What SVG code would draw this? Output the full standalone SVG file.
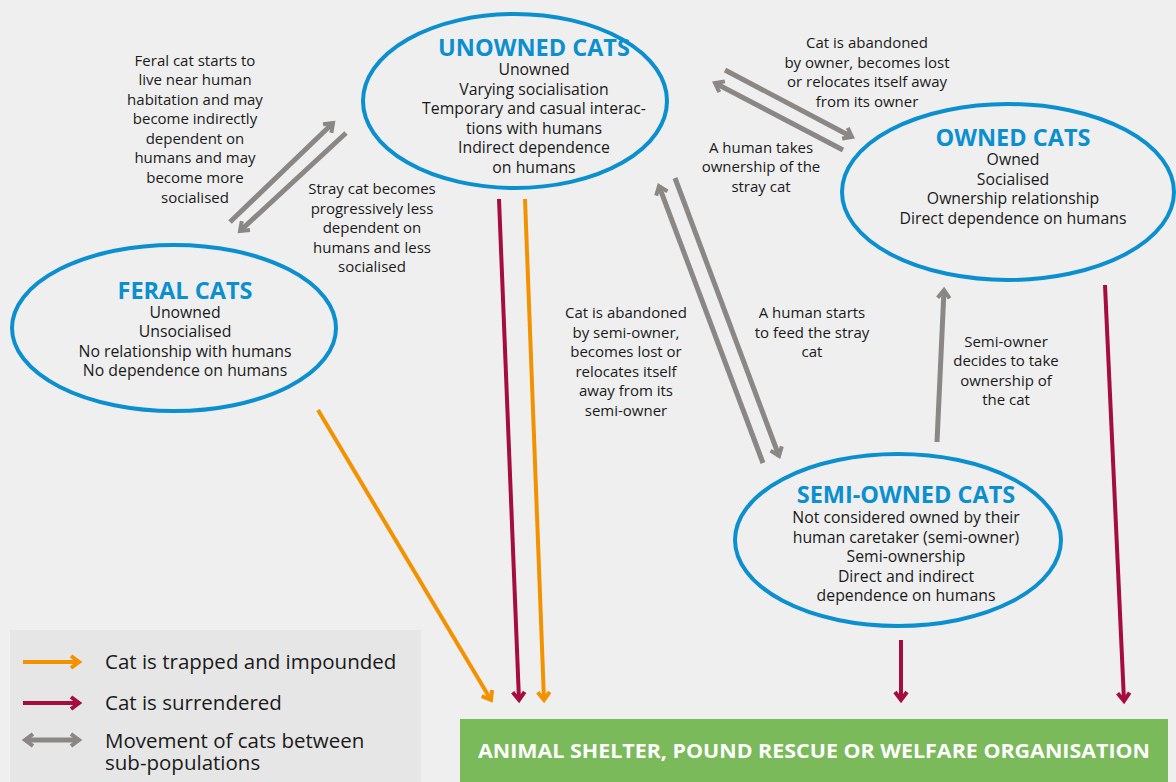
<svg xmlns="http://www.w3.org/2000/svg" width="1176" height="782" viewBox="0 0 1176 782">
<style>
.ell{fill:none;stroke:#0b8fcf;stroke-width:4}
.ttl{font-family:"Open Sans","Noto Sans",sans-serif;font-weight:700;font-size:23.5px;fill:#0b8fcf;text-anchor:middle}
.bd{font-family:"Open Sans","Noto Sans",sans-serif;font-size:15.8px;fill:#1a1a1a;text-anchor:middle}
.lb{font-family:"Open Sans","Noto Sans",sans-serif;font-size:15px;fill:#1a1a1a;text-anchor:middle}
.lg{font-family:"Open Sans","Noto Sans",sans-serif;font-size:20.5px;fill:#1a1a1a}
.gr{stroke:#8a8785;stroke-width:5;fill:none;marker-end:url(#mg)}
.or{stroke:#f39200;stroke-width:4;fill:none;marker-end:url(#mo)}
.cr{stroke:#a50d3f;stroke-width:4;fill:none;marker-end:url(#mc)}
</style>
<defs>
<marker id="mg" markerUnits="userSpaceOnUse" viewBox="0 0 16 16" refX="12" refY="8" markerWidth="16" markerHeight="16" orient="auto"><path d="M4,2 L12,8 L4,14" fill="none" stroke="#8a8785" stroke-width="4"/></marker>
<marker id="mo" markerUnits="userSpaceOnUse" viewBox="0 0 16 16" refX="12" refY="8" markerWidth="16" markerHeight="16" orient="auto"><path d="M4,2 L12,8 L4,14" fill="none" stroke="#f39200" stroke-width="4"/></marker>
<marker id="mc" markerUnits="userSpaceOnUse" viewBox="0 0 16 16" refX="12" refY="8" markerWidth="16" markerHeight="16" orient="auto"><path d="M4,2 L12,8 L4,14" fill="none" stroke="#a50d3f" stroke-width="4"/></marker>
<marker id="mgs" markerUnits="userSpaceOnUse" viewBox="0 0 16 16" refX="4" refY="8" markerWidth="16" markerHeight="16" orient="auto"><path d="M12,2 L4,8 L12,14" fill="none" stroke="#8a8785" stroke-width="4"/></marker>
</defs>
<rect width="1176" height="782" fill="#efefef"/>

<g id="connectors">
<line class="gr" x1="230" y1="222" x2="333" y2="123"/>
<line class="gr" x1="346" y1="133" x2="240" y2="231"/>
<line class="gr" x1="725" y1="70" x2="852" y2="137"/>
<line class="gr" x1="843" y1="150" x2="715" y2="83"/>
<line class="gr" x1="763" y1="463" x2="659" y2="186"/>
<line class="gr" x1="675" y1="178" x2="779" y2="456"/>
<line class="gr" x1="937" y1="442" x2="944" y2="290"/>
<line class="cr" x1="499" y1="199" x2="519" y2="700"/>
<line class="or" x1="525" y1="199" x2="544" y2="700"/>
<line class="or" x1="318" y1="410" x2="491" y2="700"/>
<line class="cr" x1="901" y1="640" x2="901" y2="700"/>
<line class="cr" x1="1105" y1="285" x2="1124" y2="701"/>
</g>

<g id="unowned">
<ellipse class="ell" cx="515" cy="101" rx="152" ry="87"/>
<text class="ttl" x="534" y="56">UNOWNED CATS</text>
<text class="bd" x="534" y="75">Unowned</text>
<text class="bd" x="534" y="95">Varying socialisation</text>
<text class="bd" x="534" y="114">Temporary and casual interac-</text>
<text class="bd" x="534" y="134">tions with humans</text>
<text class="bd" x="534" y="153">Indirect dependence</text>
<text class="bd" x="534" y="173">on humans</text>
</g>

<g id="owned">
<ellipse class="ell" cx="1008" cy="192" rx="166" ry="88"/>
<text class="ttl" x="1013" y="146">OWNED CATS</text>
<text class="bd" x="1013" y="165">Owned</text>
<text class="bd" x="1013" y="185">Socialised</text>
<text class="bd" x="1013" y="204">Ownership relationship</text>
<text class="bd" x="1013" y="224">Direct dependence on humans</text>
</g>

<g id="feral">
<ellipse class="ell" cx="174" cy="328" rx="162" ry="83"/>
<text class="ttl" x="185" y="299">FERAL CATS</text>
<text class="bd" x="185" y="318">Unowned</text>
<text class="bd" x="185" y="337">Unsocialised</text>
<text class="bd" x="185" y="357">No relationship with humans</text>
<text class="bd" x="185" y="376">No dependence on humans</text>
</g>

<g id="semiowned">
<ellipse class="ell" cx="898" cy="540" rx="163" ry="86"/>
<text class="ttl" x="906" y="503">SEMI-OWNED CATS</text>
<text class="bd" x="906" y="523">Not considered owned by their</text>
<text class="bd" x="906" y="543">human caretaker (semi-owner)</text>
<text class="bd" x="906" y="562">Semi-ownership</text>
<text class="bd" x="906" y="582">Direct and indirect</text>
<text class="bd" x="906" y="601">dependence on humans</text>
</g>

<g id="labels">
<text class="lb" x="195" y="66">Feral cat starts to</text>
<text class="lb" x="195" y="85">live near human</text>
<text class="lb" x="195" y="105">habitation and may</text>
<text class="lb" x="195" y="124">become indirectly</text>
<text class="lb" x="195" y="144">dependent on</text>
<text class="lb" x="195" y="163">humans and may</text>
<text class="lb" x="195" y="183">become more</text>
<text class="lb" x="195" y="203">socialised</text>

<text class="lb" x="372" y="194">Stray cat becomes</text>
<text class="lb" x="372" y="214">progressively less</text>
<text class="lb" x="372" y="233">dependent on</text>
<text class="lb" x="372" y="253">humans and less</text>
<text class="lb" x="372" y="272">socialised</text>

<text class="lb" x="867" y="48">Cat is abandoned</text>
<text class="lb" x="867" y="68">by owner, becomes lost</text>
<text class="lb" x="867" y="87">or relocates itself away</text>
<text class="lb" x="867" y="107">from its owner</text>

<text class="lb" x="761" y="153">A human takes</text>
<text class="lb" x="761" y="172">ownership of the</text>
<text class="lb" x="761" y="192">stray cat</text>

<text class="lb" x="626" y="318">Cat is abandoned</text>
<text class="lb" x="626" y="338">by semi-owner,</text>
<text class="lb" x="626" y="357">becomes lost or</text>
<text class="lb" x="626" y="377">relocates itself</text>
<text class="lb" x="626" y="396">away from its</text>
<text class="lb" x="626" y="416">semi-owner</text>

<text class="lb" x="812" y="318">A human starts</text>
<text class="lb" x="812" y="338">to feed the stray</text>
<text class="lb" x="812" y="357">cat</text>

<text class="lb" x="1006" y="347">Semi-owner</text>
<text class="lb" x="1006" y="366">decides to take</text>
<text class="lb" x="1006" y="386">ownership of</text>
<text class="lb" x="1006" y="405">the cat</text>
</g>

<g id="shelter">
<rect x="460" y="719" width="708" height="63" fill="#7aba5a"/>
<text x="814" y="758" text-anchor="middle" font-family="Open Sans, Noto Sans, sans-serif" font-weight="700" font-size="19" fill="#ffffff" textLength="672" lengthAdjust="spacingAndGlyphs">ANIMAL SHELTER, POUND RESCUE OR WELFARE ORGANISATION</text>
</g>

<g id="legend">
<rect x="10" y="630" width="411" height="152" fill="#e6e6e6"/>
<line class="or" x1="23" y1="662" x2="79" y2="662"/>
<text class="lg" x="105" y="669">Cat is trapped and impounded</text>
<line class="cr" x1="23" y1="703" x2="79" y2="703"/>
<text class="lg" x="105" y="710">Cat is surrendered</text>
<line class="gr" x1="25" y1="740" x2="79" y2="740" marker-start="url(#mgs)"/>
<text class="lg" x="105" y="748">Movement of cats between</text>
<text class="lg" x="105" y="770">sub-populations</text>
</g>
</svg>
